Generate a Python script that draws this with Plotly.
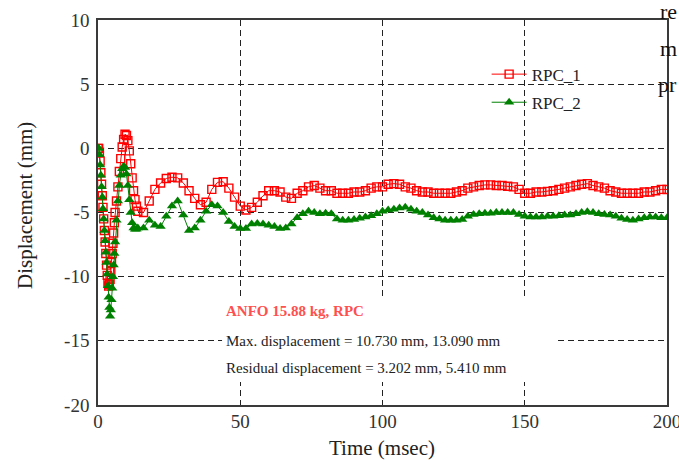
import numpy as np
import plotly.graph_objects as go

# Sample times (msec): fine steps through the initial blast response, coarser afterwards
time_ms = np.concatenate([
    np.arange(0.0, 6.01, 0.25),
    np.arange(6.5, 14.01, 0.5),
    np.arange(16.0, 200.01, 2.0),
])

# RPC_1 displacement (mm)
rpc1 = [
    # 0 - 6 msec (0.25 step)
    0.0, 0.0, -0.3, -1.0, -1.9, -2.8, -3.7, -4.6, -5.5, -6.4, -7.3, -8.2, -9.1,
    -9.9, -10.5, -10.73, -10.6, -10.2, -9.6, -8.9, -8.2, -7.4, -6.6, -5.8, -5.0,
    # 6.5 - 14 msec (0.5 step)
    -4.1, -3.0, -1.8, -0.8, 0.1, 0.7, 1.1, 1.0, 0.6, -0.2, -1.2, -2.3, -3.3,
    -4.0, -4.5, -4.9,
    # 16 - 200 msec (2 step)
    -5.0, -4.1, -3.2, -2.7, -2.35, -2.25, -2.3, -2.7, -3.3, -3.9, -4.4, -4.2,
    -3.2, -2.65, -2.6, -3.1, -3.8, -4.5, -4.8, -4.6, -4.2, -3.7, -3.3, -3.3,
    -3.4, -3.8, -3.9, -3.5, -3.3, -3.0, -2.9, -3.1, -3.3, -3.3, -3.5, -3.5,
    -3.5, -3.4, -3.4, -3.3, -3.1, -3.0, -3.0, -2.8, -2.75, -2.8, -3.0, -3.1,
    -3.3, -3.4, -3.4, -3.5, -3.5, -3.5, -3.5, -3.4, -3.3, -3.1, -3.0, -2.9,
    -2.85, -2.85, -2.9, -2.9, -2.95, -3.0, -3.2, -3.5, -3.5, -3.4, -3.4, -3.35,
    -3.3, -3.2, -3.1, -3.0, -2.9, -2.8, -2.75, -2.9, -3.0, -3.1, -3.3, -3.4,
    -3.5, -3.5, -3.5, -3.5, -3.4, -3.4, -3.3, -3.2, -3.202,
]

# RPC_2 displacement (mm)
rpc2 = [
    # 0 - 6 msec (0.25 step)
    0.0, 0.0, -0.5, -1.3, -2.1, -3.0, -3.8, -4.7, -5.5, -6.4, -7.2, -8.1, -8.9,
    -9.8, -10.7, -11.6, -12.4, -13.09, -12.6, -11.8, -10.9, -10.0, -9.1, -8.2, -7.3,
    # 6.5 - 14 msec (0.5 step)
    -5.6, -4.1, -2.9, -2.1, -1.6, -1.4, -1.5, -2.0, -2.9, -4.0, -5.0, -5.8,
    -6.2, -6.3, -6.3, -6.2,
    # 16 - 200 msec (2 step)
    -6.2, -5.6, -6.0, -6.1, -5.3, -4.5, -4.1, -5.2, -6.4, -6.2, -5.6, -4.9,
    -4.4, -4.5, -5.0, -5.7, -6.1, -6.25, -6.25, -5.9, -5.85, -5.9, -6.0, -6.1,
    -6.25, -6.2, -5.9, -5.4, -5.1, -4.9, -5.0, -5.1, -5.05, -5.1, -5.5, -5.6,
    -5.6, -5.55, -5.45, -5.35, -5.25, -5.1, -4.9, -4.8, -4.75, -4.65, -4.6, -4.75,
    -4.9, -5.0, -5.2, -5.4, -5.5, -5.6, -5.6, -5.6, -5.55, -5.3, -5.15, -5.1,
    -5.05, -5.05, -5.0, -5.0, -5.0, -5.0, -5.15, -5.3, -5.35, -5.35, -5.35, -5.3,
    -5.3, -5.25, -5.2, -5.2, -5.1, -5.0, -4.95, -5.0, -5.1, -5.15, -5.2, -5.3,
    -5.45, -5.55, -5.6, -5.5, -5.4, -5.35, -5.35, -5.4, -5.41,
]

x_ticks = [0, 50, 100, 150, 200]
x_tick_text = ["0", "50", "100", "150", "200"]
y_ticks = [10, 5, 0, -5, -10, -15, -20]
y_tick_text = ["10", "5", "0", "-5", "-10", "-15", "-20"]

x_title = "Time (msec)"
y_title = "Displacement (mm)"
case_label = "ANFO 15.88 kg, RPC"
max_label = "Max. displacement = 10.730 mm, 13.090 mm"
res_label = "Residual displacement = 3.202 mm, 5.410 mm"

serif = "Liberation Serif, Times New Roman, serif"

W, H = 679, 460
M_L, M_R, M_T, M_B = 98, 12, 20, 55
plot_w = W - M_L - M_R
plot_h = H - M_T - M_B


def px_to_paper(xpx, ypx):
    return (xpx - M_L) / plot_w, (H - M_B - ypx) / plot_h


fig = go.Figure()
fig.add_trace(go.Scatter(
    x=time_ms, y=rpc1, name="RPC_1", mode="lines+markers", legendgroup="g1",
    line=dict(color="#ff0000", width=1),
    marker=dict(symbol="square-open", size=8, color="#ff0000", line=dict(width=1.4)),
))
fig.add_trace(go.Scatter(
    x=time_ms, y=rpc2, name="RPC_2", mode="lines+markers", legendgroup="g2",
    line=dict(color="#008000", width=1),
    marker=dict(symbol="triangle-up", size=9, color="#008000"),
))

axis_common = dict(
    showline=True, linecolor="#3a3a3a", linewidth=1.5, mirror=True,
    showgrid=True, gridcolor="#222222", gridwidth=1, griddash="6px,4px",
    zeroline=False, ticks="", automargin=False, ticklabeloverflow="allow",
    tickfont=dict(family=serif, size=19, color="#333333"),
)

fig.update_xaxes(range=[0, 200], tickvals=x_ticks, ticktext=x_tick_text,
                 ticklabelstandoff=-2, **axis_common)
fig.update_yaxes(range=[-20, 10], tickvals=y_ticks, ticktext=y_tick_text,
                 ticklabelstandoff=3, **axis_common)

# Axis titles
tx, ty = px_to_paper(382, 448)
fig.add_annotation(x=tx, y=ty, xref="paper", yref="paper", text=x_title, showarrow=False,
                   xanchor="center", yanchor="middle",
                   font=dict(family=serif, size=21, color="#222222"))
tx, ty = px_to_paper(25, 206)
fig.add_annotation(x=tx, y=ty, xref="paper", yref="paper", text=y_title, showarrow=False,
                   textangle=-90, xanchor="center", yanchor="middle",
                   font=dict(family=serif, size=21, color="#222222"))

# White panel behind the case summary text
fig.add_shape(type="rect", xref="x", yref="y", x0=43.6, x1=161.7, y0=-18.2, y1=-11.5,
              fillcolor="white", line=dict(width=0), layer="above")

fig.add_annotation(x=44.3, y=-12.65, xref="x", yref="y", text=f"<b>{case_label}</b>",
                   showarrow=False, xanchor="left", yanchor="middle",
                   font=dict(family=serif, size=15, color="#ff5050"))
fig.add_annotation(x=44.3, y=-15.0, xref="x", yref="y", text=max_label,
                   showarrow=False, xanchor="left", yanchor="middle",
                   font=dict(family=serif, size=15, color="#222222"))
fig.add_annotation(x=44.3, y=-17.1, xref="x", yref="y", text=res_label,
                   showarrow=False, xanchor="left", yanchor="middle",
                   font=dict(family=serif, size=15, color="#222222"))

# Fragments of the neighbouring page text at the right edge
for txt, xpx, ypx in [("re", 658, 12), ("m", 658, 48), ("pr", 656, 85)]:
    tx, ty = px_to_paper(xpx, ypx)
    fig.add_annotation(x=tx, y=ty, xref="paper", yref="paper", text=txt,
                       showarrow=False, xanchor="left", yanchor="middle",
                       font=dict(family=serif, size=22, color="#111111"))

fig.update_layout(
    width=W, height=H,
    margin=dict(l=M_L, r=M_R, t=M_T, b=M_B, autoexpand=False),
    paper_bgcolor="white", plot_bgcolor="white",
    showlegend=True,
    legend=dict(x=0.683, y=0.905, xanchor="left", yanchor="top",
                bgcolor="rgba(0,0,0,0)", itemwidth=35, tracegroupgap=3,
                font=dict(family=serif, size=17, color="#222222")),
)

fig.write_html("out.html")
